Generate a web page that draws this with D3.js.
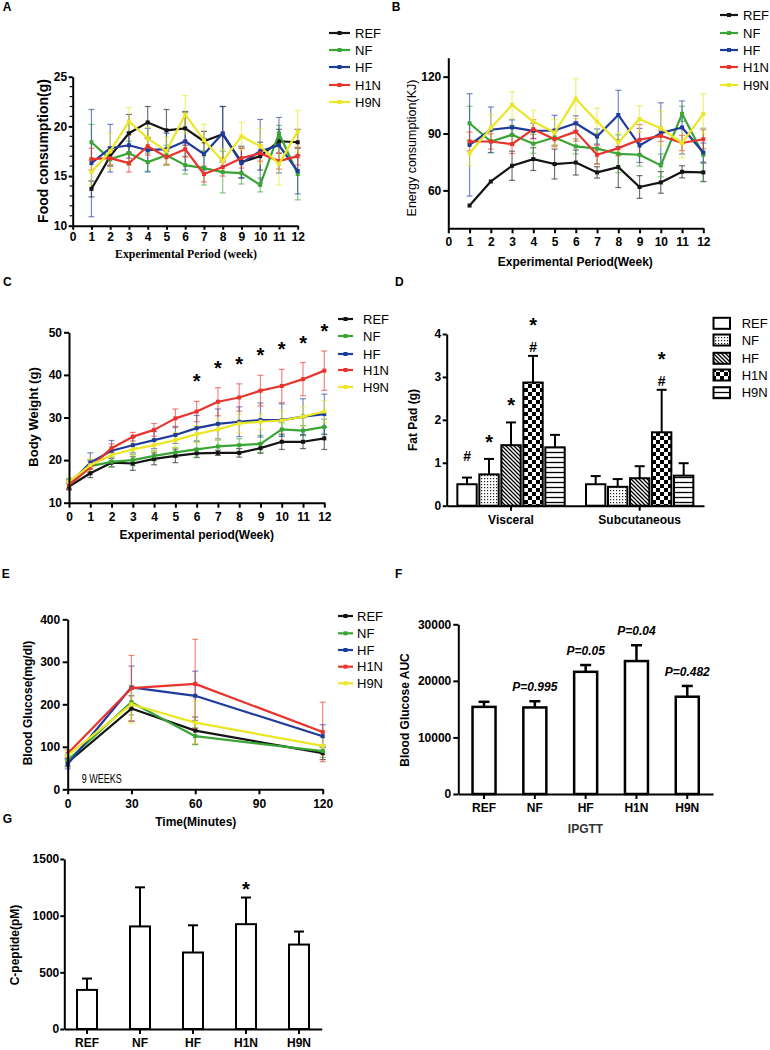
<!DOCTYPE html>
<html><head><meta charset="utf-8">
<script src="https://cdn.jsdelivr.net/npm/d3@7/dist/d3.min.js"></script>
<style>
html,body{margin:0;padding:0;background:#fff}
svg{display:block}
</style></head>
<body>
<svg id="chart" width="770" height="1050"></svg>
<script>
// ================= DATA =================
const groups = ["REF","NF","HF","H1N","H9N"];
const groupColors = ["#141414","#3aa535","#1f3c9a","#e8342c","#ebe626"];

// A: Food consumption (g)
const weeksAB = [1,2,3,4,5,6,7,8,9,10,11,12];
const foodREF    = [13.7,17.0,19.3,20.4,19.6,19.8,18.5,19.2,16.4,17.0,18.5,18.4];
const foodREFErr = [0.8,0.9,1.9,1.6,2.1,1.7,1.0,2.8,1.6,1.4,1.2,1.3];
const foodNF     = [18.4,16.7,17.3,16.4,17.1,16.1,15.8,15.4,15.3,14.1,19.3,15.2];
const foodNFErr  = [1.8,0.7,1.2,0.9,1.0,0.9,1.7,2.1,1.1,0.7,0.8,2.6];
const foodHF     = [16.3,17.8,18.1,17.6,17.7,18.5,17.2,19.3,16.3,17.5,18.1,15.5];
const foodHFErr  = [5.4,2.4,1.3,2.2,1.6,2.9,1.6,2.7,1.5,3.2,2.8,2.3];
const foodH1N    = [16.7,16.8,16.3,18.0,16.9,17.7,15.2,15.9,16.8,17.3,16.5,17.0];
const foodH1NErr = [1.1,0.8,0.9,0.9,0.7,0.8,0.8,0.9,1.0,0.8,0.8,0.9];
const foodH9N    = [15.4,17.5,20.5,18.8,17.5,21.2,18.6,16.5,19.0,18.0,16.2,19.5];
const foodH9NErr = [1.3,1.8,1.4,1.1,1.4,1.9,1.6,1.2,1.4,1.8,2.1,2.1];

// B: Energy consumption (KJ)
const energyREF    = [52,64.7,73,76.5,73.9,74.7,69.5,72.3,61.8,64.2,69.8,69.5];
const energyREFErr = [0,0,7.7,6,7.9,6.6,3,10.8,6,5.7,3.2,4.9];
const energyNF     = [95.4,85.8,89.3,84.6,87.9,83.2,82,79.3,78.8,73.2,100.4,78.8];
const energyNFErr  = [9,6,5,5,4,4,8,10,6,6,4,14];
const energyHF     = [84,92,93.2,91.4,91.6,95.4,88.4,99.8,83.7,90.2,93.2,80];
const energyHFErr  = [27,12,4,4,8,4,4,13,9,16,14,5];
const energyH1N    = [85.8,85.8,84.4,92.3,87,91,78.8,82.3,86.7,88.8,85,87];
const energyH1NErr = [5,4,5,5,4,5,5,4,8,3,4,5];
const energyH9N    = [79.6,92.8,105.1,96.3,90.5,108.4,96.3,85.3,97.7,92.8,85,100.4];
const energyH9NErr = [6.5,7,7,6,7,10.5,7,5,7,9,8,10.5];

// C: Body weight (g)
const weeksC = [0,1,2,3,4,5,6,7,8,9,10,11,12];
const bwREF    = [13.8,16.9,19.4,19.2,20.3,21,21.6,21.7,21.7,22.8,24.3,24.3,25.1];
const bwREFErr = [0.8,1,1,1.6,1.4,1.6,1,0.6,1,1.2,1.8,1.6,2.6];
const bwNF     = [14.4,18.6,19.6,20,21,21.8,22.5,23.2,23.5,23.8,27.2,26.9,27.8];
const bwNFErr  = [1,1.5,1.2,1.3,1.2,1.2,1.8,1.5,1.5,2,1.6,1.2,1.8];
const bwHF     = [14.4,19.4,22.2,23.5,24.7,25.9,27.5,28.5,29,29.4,29.4,30.2,30.8];
const bwHFErr  = [1.2,2.3,2.4,1.8,2,2,3,3.5,3.5,4,3.8,4.2,4.7];
const bwH1N    = [14.1,18.3,22.8,25.5,27.1,29.8,31.4,33.7,34.7,36.3,37.4,39,41];
const bwH1NErr = [1,1.5,1,1,1.5,2.2,2.4,3.3,3.2,3.6,3.9,3.9,4.6];
const bwH9N    = [14.9,18.8,21.2,22.5,23.5,24.7,26.1,27.2,28.6,29,29.3,30.2,31.4];
const bwH9NErr = [1,1.5,1.5,1.5,1.5,1.8,2,2.5,2.2,1.8,2.3,2.3,2.6];
const bwStarWeeks = [6,7,8,9,10,11,12];

// D: Fat pad (g)
const fatSites = ["Visceral","Subcutaneous"];
const fatREF = [0.50,0.50],  fatREFErr = [0.155,0.19];
const fatNF  = [0.73,0.44],  fatNFErr  = [0.36,0.18];
const fatHF  = [1.41,0.64],  fatHFErr  = [0.53,0.28];
const fatH1N = [2.87,1.71],  fatH1NErr = [0.62,0.99];
const fatH9N = [1.36,0.70],  fatH9NErr = [0.29,0.29];
const fatSigVisceral = ["#","*","*","#*",""];
const fatSigSubcut   = ["","","","#*",""];

// E: Blood glucose (IPGTT, 9 weeks)
const glucoseTimes = [0,30,60,120];
const gluREF = [63,190,138,85],  gluREFErr = [10,30,32,15];
const gluNF  = [68,205,125,90],  gluNFErr  = [12,30,20,15];
const gluHF  = [59,240,220,125], gluHFErr  = [11,50,58,27];
const gluH1N = [84,238,248,135], gluH1NErr = [9,77,105,70];
const gluH9N = [80,200,157,102], gluH9NErr = [12,45,50,20];

// F: Blood glucose AUC
const aucValues = [15400,15300,21600,23500,17200];
const aucErr    = [900,1100,1200,2800,1900];
const aucP      = ["","P=0.995","P=0.05","P=0.04","P=0.482"];

// G: C-peptide (pM)
const cpepValues = [345,905,675,925,745];
const cpepErr    = [100,345,240,235,115];
const cpepSig    = ["","","","*",""];

// ================= DRAWING =================
const svg = d3.select("#chart");
const SANS = '"Liberation Sans", Arial, Helvetica, sans-serif';
const SERIF = '"Liberation Serif", "Times New Roman", serif';

function txt(g, s, x, y, o = {}) {
  const t = g.append("text").attr("x", x).attr("y", y).text(s)
    .attr("font-family", o.family || SANS)
    .attr("font-size", o.size || 12)
    .attr("font-weight", o.weight || "bold")
    .attr("font-style", o.style || "normal")
    .attr("fill", o.fill || "#000")
    .attr("text-anchor", o.anchor || "middle")
    .attr("dominant-baseline", o.baseline || "central");
  if (o.rotate) t.attr("transform", `rotate(${o.rotate},${x},${y})`);
  if (o.len) t.attr("textLength", o.len).attr("lengthAdjust", "spacingAndGlyphs");
  return t;
}
// glyph-centred mark (* or #)
function mark(g, ch, cx, cy, size) {
  const k = ch === "*" ? 0.58 : 0.36;
  return txt(g, ch, cx, cy + k * size, {size: size, baseline: "alphabetic"});
}
function styleAxis(sel, fs) {
  sel.select(".domain").attr("stroke", "#000").attr("stroke-width", 2);
  sel.selectAll(".tick line").attr("stroke", "#000").attr("stroke-width", 2);
  sel.selectAll(".tick text").attr("font-family", SANS).attr("font-weight", "bold")
    .attr("font-size", fs).attr("fill", "#000");
}

function linePanel(c) {
  const g = svg.append("g");
  const x = d3.scaleLinear().domain(c.xDomain).range([c.left, c.right]);
  const y = d3.scaleLinear().domain(c.yDomain).range([c.bottom, c.top]);
  const series = groups.map((name, i) => ({
    name, color: groupColors[i],
    pts: c.xs.map((xv, j) => ({x: xv, v: c.values[i][j], e: c.errors[i][j]}))
  }));
  series.forEach(s => {
    const eb = g.append("g").attr("stroke", s.color).attr("stroke-width", 1.2)
      .attr("stroke-opacity", 0.6).attr("fill", "none");
    s.pts.forEach(d => {
      if (!d.e) return;
      const cx = x(d.x), yt = y(d.v + d.e), yb = y(d.v - d.e);
      eb.append("line").attr("x1", cx).attr("x2", cx).attr("y1", yt).attr("y2", yb);
      eb.append("line").attr("x1", cx - 3).attr("x2", cx + 3).attr("y1", yt).attr("y2", yt);
      eb.append("line").attr("x1", cx - 3).attr("x2", cx + 3).attr("y1", yb).attr("y2", yb);
    });
  });
  series.forEach(s => {
    g.append("path").datum(s.pts)
      .attr("d", d3.line().x(d => x(d.x)).y(d => y(d.v)))
      .attr("fill", "none").attr("stroke", s.color).attr("stroke-width", 2.2)
      .attr("stroke-linejoin", "round");
    g.selectAll(null).data(s.pts).join("rect")
      .attr("x", d => x(d.x) - 2).attr("y", d => y(d.v) - 2)
      .attr("width", 4).attr("height", 4).attr("fill", s.color);
  });
  const gx = g.append("g").attr("transform", `translate(0,${c.bottom})`)
    .call(d3.axisBottom(x).tickValues(c.xTicks).tickFormat(d3.format("d"))
      .tickSize(c.tick).tickSizeOuter(0).tickPadding(c.xPad));
  styleAxis(gx, c.fs);
  const gy = g.append("g").attr("transform", `translate(${c.left},0)`)
    .call(d3.axisLeft(y).tickValues(c.yTicks).tickFormat(d3.format("d"))
      .tickSize(c.tick).tickSizeOuter(0).tickPadding(c.yPad));
  styleAxis(gy, c.fs);
  if (c.minorY) {
    gy.selectAll(".minor").data(c.minorY).join("line").attr("class", "minor")
      .attr("x1", -3).attr("x2", 0).attr("y1", d => y(d)).attr("y2", d => y(d))
      .attr("stroke", "#000").attr("stroke-width", 1.2);
  }
  // legend
  groups.forEach((name, i) => {
    const ly = c.legY[i];
    g.append("line").attr("x1", c.legX1).attr("x2", c.legX2).attr("y1", ly).attr("y2", ly)
      .attr("stroke", groupColors[i]).attr("stroke-width", 2.2);
    g.append("rect").attr("x", (c.legX1 + c.legX2) / 2 - 2).attr("y", ly - 2)
      .attr("width", 4).attr("height", 4).attr("fill", groupColors[i]);
    txt(g, name, c.legT, ly, {anchor: "start", weight: "normal", size: 13});
  });
  return {g, x, y};
}

// ---------- A ----------
{
  const p = linePanel({
    xs: weeksAB, xDomain: [0, 12], yDomain: [10, 25],
    left: 72.7, right: 297.7, top: 76.7, bottom: 225.7,
    xTicks: [0,1,2,3,4,5,6,7,8,9,10,11,12], yTicks: [10,15,20,25],
    minorY: [11,12,13,14,16,17,18,19,21,22,23,24],
    tick: 4, xPad: 2.5, yPad: 1.5, fs: 12,
    values: [foodREF, foodNF, foodHF, foodH1N, foodH9N],
    errors: [foodREFErr, foodNFErr, foodHFErr, foodH1NErr, foodH9NErr],
    legX1: 329, legX2: 350, legT: 355, legY: [33, 50, 67, 85, 102]
  });
  txt(svg, "A", 2.7, 7, {anchor: "start", size: 12});
  txt(svg, "Food consumption(g)", 43, 151, {size: 14, rotate: -90});
  txt(svg, "Experimental Period (week)", 186, 254, {family: SERIF, size: 12.5, len: 142});
}

// ---------- B ----------
{
  linePanel({
    xs: weeksAB, xDomain: [0, 12], yDomain: [40, 130],
    left: 448.3, right: 703.3, top: 57.7, bottom: 228.3,
    xTicks: [0,1,2,3,4,5,6,7,8,9,10,11,12], yTicks: [60, 90, 120],
    tick: 5, xPad: 4.5, yPad: 2, fs: 12,
    values: [energyREF, energyNF, energyHF, energyH1N, energyH9N],
    errors: [energyREFErr, energyNFErr, energyHFErr, energyH1NErr, energyH9NErr],
    legX1: 720, legX2: 738, legT: 743, legY: [15, 33, 50, 67, 85]
  });
  txt(svg, "B", 391.7, 6.5, {anchor: "start", size: 12});
  txt(svg, "Energy consumption(KJ)", 411.7, 148, {size: 12.5, weight: "normal", rotate: -90});
  txt(svg, "Experimental Period(Week)", 575.3, 261.7, {size: 12});
}

// ---------- C ----------
{
  const p = linePanel({
    xs: weeksC, xDomain: [0, 12], yDomain: [10, 50],
    left: 69, right: 324.3, top: 332.3, bottom: 502.7,
    xTicks: [0,1,2,3,4,5,6,7,8,9,10,11,12], yTicks: [10, 20, 30, 40, 50],
    tick: 5, xPad: 5, yPad: 2, fs: 12,
    values: [bwREF, bwNF, bwHF, bwH1N, bwH9N],
    errors: [bwREFErr, bwNFErr, bwHFErr, bwH1NErr, bwH9NErr],
    legX1: 338, legX2: 353, legT: 363, legY: [319, 336, 354, 370, 387]
  });
  bwStarWeeks.forEach(w => {
    const i = weeksC.indexOf(w);
    mark(svg, "*", p.x(w), p.y(bwH1N[i] + bwH1NErr[i]) - 24.5, 20);
  });
  txt(svg, "C", 3, 282, {anchor: "start", size: 12});
  txt(svg, "Body Weight (g)", 33, 417, {size: 13, rotate: -90});
  txt(svg, "Experimental period(Week)", 196.7, 535, {size: 12});
}

// ---------- D ----------
{
  const g = svg.append("g");
  const defs = svg.append("defs");
  const pd = defs.append("pattern").attr("id", "pDots").attr("patternUnits", "userSpaceOnUse")
    .attr("width", 3).attr("height", 3);
  pd.append("rect").attr("width", 3).attr("height", 3).attr("fill", "#fff");
  pd.append("rect").attr("x", 1).attr("y", 1).attr("width", 1.2).attr("height", 1.2).attr("fill", "#222");
  const pg = defs.append("pattern").attr("id", "pDiag").attr("patternUnits", "userSpaceOnUse")
    .attr("width", 4).attr("height", 4);
  pg.append("rect").attr("width", 4).attr("height", 4).attr("fill", "#fff");
  pg.append("path").attr("d", "M-1,-1L5,5M-1,3L1,5M3,-1L5,1").attr("stroke", "#000").attr("stroke-width", 1.3);
  const pc = defs.append("pattern").attr("id", "pChk").attr("patternUnits", "userSpaceOnUse")
    .attr("width", 8).attr("height", 8);
  pc.append("rect").attr("width", 8).attr("height", 8).attr("fill", "#fff");
  pc.append("rect").attr("x", 0).attr("y", 0).attr("width", 4).attr("height", 4).attr("fill", "#000");
  pc.append("rect").attr("x", 4).attr("y", 4).attr("width", 4).attr("height", 4).attr("fill", "#000");
  const ph = defs.append("pattern").attr("id", "pHor").attr("patternUnits", "userSpaceOnUse")
    .attr("width", 6).attr("height", 5);
  ph.append("rect").attr("width", 6).attr("height", 5).attr("fill", "#fff");
  ph.append("line").attr("x1", 0).attr("x2", 6).attr("y1", 2.5).attr("y2", 2.5).attr("stroke", "#000").attr("stroke-width", 1.3);
  const fills = ["#fff", "url(#pDots)", "url(#pDiag)", "url(#pChk)", "url(#pHor)"];

  const x0 = d3.scaleBand().domain(fatSites).range([446.7, 704]).paddingInner(0.145).paddingOuter(0.0725);
  const x1 = d3.scaleBand().domain(groups).range([0, x0.bandwidth()]).paddingInner(0.12).paddingOuter(0.06);
  const y = d3.scaleLinear().domain([0, 4]).range([505.7, 334]);
  const vals = [fatREF, fatNF, fatHF, fatH1N, fatH9N];
  const errs = [fatREFErr, fatNFErr, fatHFErr, fatH1NErr, fatH9NErr];
  const sigs = [fatSigVisceral, fatSigSubcut];
  const data = [];
  fatSites.forEach((site, si) => groups.forEach((gr, gi) =>
    data.push({site, gr, gi, v: vals[gi][si], e: errs[gi][si], sig: sigs[si][gi]})));

  data.forEach(d => {
    const bx = x0(d.site) + x1(d.gr), bw = x1.bandwidth(), cx = bx + bw / 2;
    const yt = y(d.v + d.e);
    g.append("line").attr("x1", cx).attr("x2", cx).attr("y1", y(d.v)).attr("y2", yt)
      .attr("stroke", "#000").attr("stroke-width", 2);
    g.append("line").attr("x1", cx - 5).attr("x2", cx + 5).attr("y1", yt).attr("y2", yt)
      .attr("stroke", "#000").attr("stroke-width", 2);
    g.append("rect").attr("x", bx).attr("y", y(d.v)).attr("width", bw).attr("height", y(0) - y(d.v))
      .attr("fill", fills[d.gi]).attr("stroke", "#000").attr("stroke-width", 2);
    if (d.sig === "#") mark(g, "#", cx, yt - 22, 14);
    else if (d.sig === "*") mark(g, "*", cx, yt - 22, 20);
    else if (d.sig === "#*") { mark(g, "#", cx, yt - 9, 14); mark(g, "*", cx, yt - 35, 20); }
  });
  const gx = g.append("g").attr("transform", "translate(0,505.7)")
    .call(d3.axisBottom(x0).tickSize(5).tickSizeOuter(0).tickPadding(5));
  styleAxis(gx, 12);
  const gy = g.append("g").attr("transform", "translate(446.7,0)")
    .call(d3.axisLeft(y).tickValues([0,1,2,3,4]).tickFormat(d3.format("d")).tickSize(4).tickSizeOuter(0).tickPadding(1.5));
  styleAxis(gy, 12);
  const legY = [323.3, 340, 358.3, 375, 392.7];
  groups.forEach((name, i) => {
    g.append("rect").attr("x", 713.5).attr("y", legY[i] - 5.5).attr("width", 16.5).attr("height", 11)
      .attr("fill", fills[i]).attr("stroke", "#000").attr("stroke-width", 2);
    txt(g, name, 741.7, legY[i], {anchor: "start", weight: "normal", size: 13});
  });
  txt(svg, "D", 395, 282, {anchor: "start", size: 12});
  txt(svg, "Fat Pad (g)", 413, 420, {size: 12, rotate: -90});
}

// ---------- E ----------
{
  linePanel({
    xs: glucoseTimes, xDomain: [0, 120], yDomain: [0, 400],
    left: 67.7, right: 322.7, top: 619.3, bottom: 789.3,
    xTicks: [0, 30, 60, 90, 120], yTicks: [0, 100, 200, 300, 400],
    tick: 5, xPad: 5.5, yPad: 2.5, fs: 12,
    values: [gluREF, gluNF, gluHF, gluH1N, gluH9N],
    errors: [gluREFErr, gluNFErr, gluHFErr, gluH1NErr, gluH9NErr],
    legX1: 338, legX2: 353, legT: 357, legY: [616, 633.3, 650, 666.7, 683.3]
  });
  txt(svg, "9 WEEKS", 81.7, 782.5, {anchor: "start", weight: "normal", size: 12, len: 40, baseline: "alphabetic"});
  txt(svg, "E", 1.7, 574, {anchor: "start", size: 12});
  txt(svg, "Blood Glucose(mg/dl)", 28, 703, {size: 12, rotate: -90});
  txt(svg, "Time(Minutes)", 195.8, 821.7, {size: 12});
}

// ---------- F ----------
{
  const g = svg.append("g");
  const x = d3.scaleBand().domain(groups).range([458.3, 713]).paddingInner(0.547).paddingOuter(0.28);
  const y = d3.scaleLinear().domain([0, 30000]).range([794, 624.3]);
  groups.forEach((gr, i) => {
    const bx = x(gr), bw = x.bandwidth(), cx = bx + bw / 2;
    const yt = y(aucValues[i] + aucErr[i]);
    g.append("line").attr("x1", cx).attr("x2", cx).attr("y1", y(aucValues[i])).attr("y2", yt)
      .attr("stroke", "#000").attr("stroke-width", 2.5);
    g.append("line").attr("x1", cx - 5.5).attr("x2", cx + 5.5).attr("y1", yt).attr("y2", yt)
      .attr("stroke", "#000").attr("stroke-width", 2.5);
    g.append("rect").attr("x", bx).attr("y", y(aucValues[i])).attr("width", bw)
      .attr("height", y(0) - y(aucValues[i])).attr("fill", "#fff").attr("stroke", "#000").attr("stroke-width", 2.5);
    if (aucP[i]) txt(g, aucP[i], cx, yt - 14, {size: 12, style: "italic"});
  });
  const gx = g.append("g").attr("transform", "translate(0,794)")
    .call(d3.axisBottom(x).tickSize(5).tickSizeOuter(0).tickPadding(4.5));
  styleAxis(gx, 12);
  const gy = g.append("g").attr("transform", "translate(458.3,0)")
    .call(d3.axisLeft(y).tickValues([0, 10000, 20000, 30000]).tickFormat(d3.format("d")).tickSize(5).tickSizeOuter(0).tickPadding(2));
  styleAxis(gy, 12);
  txt(svg, "F", 395, 574, {anchor: "start", size: 12});
  txt(svg, "Blood Glucose AUC", 405, 710, {size: 12, rotate: -90});
  txt(svg, "IPGTT", 585.5, 829.3, {size: 12, fill: "#333"});
}

// ---------- G ----------
{
  const g = svg.append("g");
  const x = d3.scaleBand().domain(groups).range([64.3, 321.7]).paddingInner(0.623).paddingOuter(0.24);
  const y = d3.scaleLinear().domain([0, 1500]).range([1029, 859]);
  groups.forEach((gr, i) => {
    const bx = x(gr), bw = x.bandwidth(), cx = bx + bw / 2;
    const yt = y(cpepValues[i] + cpepErr[i]);
    g.append("line").attr("x1", cx).attr("x2", cx).attr("y1", y(cpepValues[i])).attr("y2", yt)
      .attr("stroke", "#000").attr("stroke-width", 2);
    g.append("line").attr("x1", cx - 5).attr("x2", cx + 5).attr("y1", yt).attr("y2", yt)
      .attr("stroke", "#000").attr("stroke-width", 2);
    g.append("rect").attr("x", bx).attr("y", y(cpepValues[i])).attr("width", bw)
      .attr("height", y(0) - y(cpepValues[i])).attr("fill", "#fff").attr("stroke", "#000").attr("stroke-width", 2);
    if (cpepSig[i]) mark(g, cpepSig[i], cx, yt - 13, 20);
  });
  const gx = g.append("g").attr("transform", "translate(0,1029)")
    .call(d3.axisBottom(x).tickSize(5).tickSizeOuter(0).tickPadding(4));
  styleAxis(gx, 12);
  const gy = g.append("g").attr("transform", "translate(64.3,0)")
    .call(d3.axisLeft(y).tickValues([0, 500, 1000, 1500]).tickFormat(d3.format("d")).tickSize(4).tickSizeOuter(0).tickPadding(1));
  styleAxis(gy, 12);
  txt(svg, "G", 2.7, 819, {anchor: "start", size: 12});
  txt(svg, "C-peptide(pM)", 15, 945, {size: 12, rotate: -90});
}
</script>
</body></html>
